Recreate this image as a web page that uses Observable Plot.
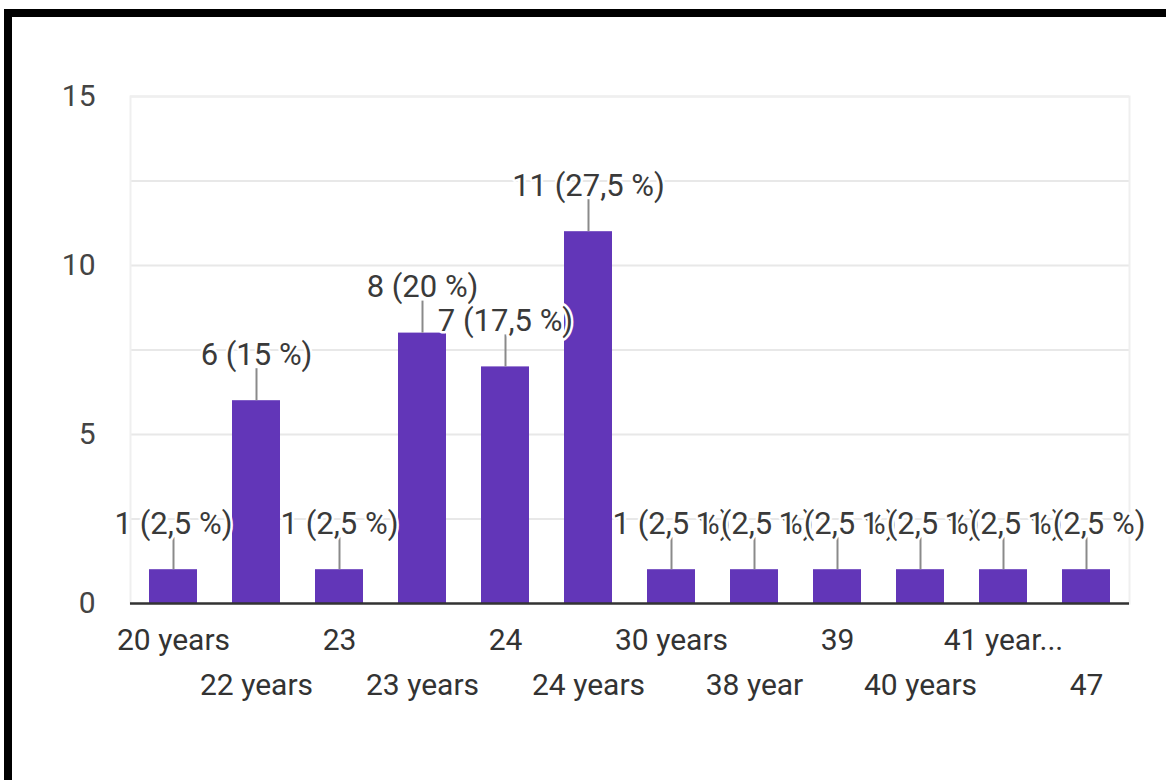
<!DOCTYPE html>
<html>
<head>
<meta charset="utf-8">
<script src="https://cdn.jsdelivr.net/npm/d3@7"></script>
<script src="https://cdn.jsdelivr.net/npm/@observablehq/plot@0.6"></script>
<style>
  html, body { margin: 0; padding: 0; background: #fff; }
  #wrap { position: relative; width: 1166px; height: 780px; overflow: hidden; }
  #border { position: absolute; left: 4px; top: 9px; width: 1162px; height: 771px;
            border-left: 8px solid #000; border-top: 8px solid #000; box-sizing: border-box; pointer-events: none; }
  svg { display: block; }
</style>
</head>
<body>
<div id="wrap"><div id="border"></div></div>
<script>
const categories = ["20 years", "22 years", "23", "23 years", "24", "24 years", "30 years", "38 year", "39", "40 years", "41 year...", "47"];
const counts = [1, 6, 1, 8, 7, 11, 1, 1, 1, 1, 1, 1];
const percents = ["2,5", "15", "2,5", "20", "17,5", "27,5", "2,5", "2,5", "2,5", "2,5", "2,5", "2,5"];
const yTicks = [0, 5, 10, 15];
const yGrid = [2.5, 5, 7.5, 10, 12.5, 15];

const data = categories.map((c, i) => ({name: c, value: counts[i], label: `${counts[i]} (${percents[i]} %)`}));
const rowOne = categories.filter((d, i) => i % 2 === 0);
const rowTwo = categories.filter((d, i) => i % 2 === 1);

const font = "Roboto, 'Noto Sans', sans-serif";

const chart = Plot.plot({
  width: 1166,
  height: 780,
  marginLeft: 130,
  marginRight: 37,
  marginTop: 96,
  marginBottom: 177,
  style: {fontFamily: font, background: "transparent"},
  x: {domain: categories, paddingInner: 0.42, paddingOuter: 0.21, axis: null, label: null},
  y: {domain: [0, 15], axis: null, label: null},
  marks: [
    Plot.gridY(yGrid, {stroke: "#e8e8e8", strokeOpacity: 1, strokeWidth: 2}),
    Plot.frame({stroke: "#efefef", strokeWidth: 2}),
    Plot.barY(data, {x: "name", y: "value", fill: "#6236b8"}),
    Plot.ruleY([0], {stroke: "#333", strokeWidth: 2.5}),
    Plot.ruleX(data, {x: "name", y1: "value", y2: "value", insetTop: -32, stroke: "#8a8a8a", strokeWidth: 2}),
    Plot.text(data, {x: "name", y: "value", text: "label", dy: -46, fontSize: 31, fill: "#3a3a3a", stroke: "white", strokeWidth: 5}),
    Plot.axisY(yTicks, {tickSize: 0, tickPadding: 35, fontSize: 30, fill: "#444", label: null}),
    Plot.axisX(rowOne, {tickSize: 0, tickPadding: 22, fontSize: 30, fill: "#333", lineAnchor: "middle", dy: 15, label: null}),
    Plot.axisX(rowTwo, {tickSize: 0, tickPadding: 22, fontSize: 30, fill: "#333", lineAnchor: "middle", dy: 60, label: null})
  ]
});
document.getElementById("wrap").prepend(chart);
</script>
</body>
</html>
